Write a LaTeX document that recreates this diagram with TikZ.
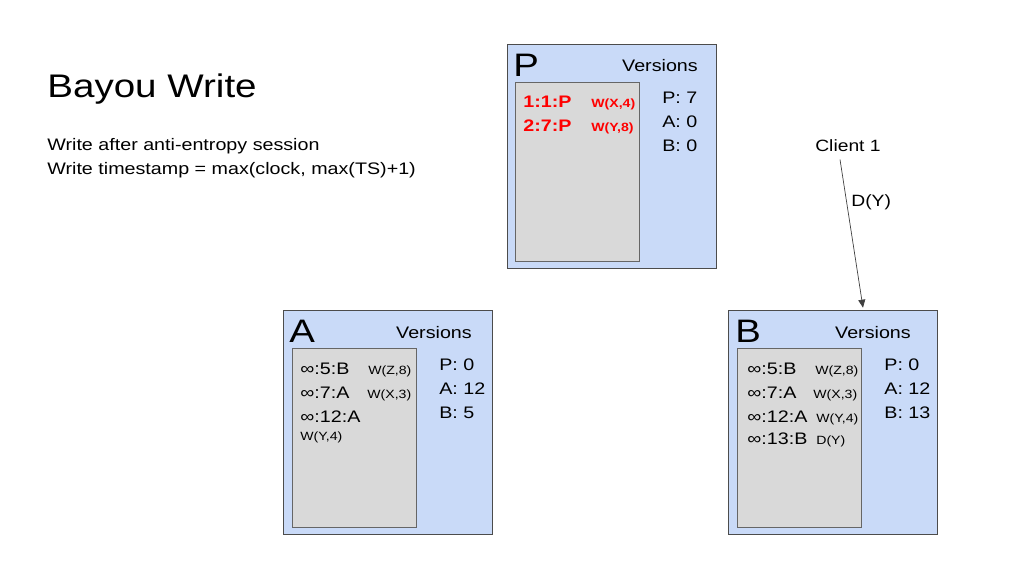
\documentclass[tikz,border=0pt]{standalone}
\usepackage{fontspec}
\setmainfont[FakeStretch=1.18]{Liberation Sans}
\usepackage{tikz}
\usetikzlibrary{arrows.meta,positioning}

\definecolor{replicablue}{HTML}{C9DAF8}
\definecolor{loggray}{HTML}{D9D9D9}

\begin{document}
\begin{tikzpicture}[x=0.02cm,y=-0.02cm,
  replica/.style={draw=black!70,fill=replicablue,minimum width=4.18cm,minimum height=4.48cm,inner sep=0},
  logbox/.style={draw=black!60,fill=loggray,minimum width=2.48cm,minimum height=3.58cm,inner sep=0},
  txt/.style={anchor=base west,inner sep=0,font=\fontsize{9.5}{11}\selectfont},
  op/.style={anchor=base west,inner sep=0,font=\fontsize{6.8}{8}\selectfont},
  letter/.style={anchor=base west,inner sep=0,font=\fontsize{18.5}{20}\selectfont},
  versions/.style={anchor=base,inner sep=0,font=\fontsize{9.5}{11}\selectfont}]
\useasboundingbox (0,0) rectangle (1024,576);
% Title and notes
\node[anchor=base west,inner sep=0,font=\fontsize{18.6}{20}\selectfont] (title) at (47,97) {Bayou Write};
\node[txt] (note1) at (47,150) {Write after anti-entropy session};
\node[txt] (note2) at (47,174) {Write timestamp = max(clock, max(TS)+1)};
% Replica P
\node[replica] (boxP) at (611.5,156) {};
\node[logbox] (logP) at (577.5,171.5) {};
\node[letter] (nameP) at (513,76) {P};
\node[versions] (verP) at (660,71) {Versions};
\foreach \t/\y in {{P: 7}/103,{A: 0}/127,{B: 0}/151}
  \node[txt] at (662,\y) {\t};
\node[txt,red,font=\fontsize{9.5}{11}\selectfont\bfseries] (p1) at (523,107) {1:1:P};
\node[op,red,font=\fontsize{6.8}{8}\selectfont\bfseries] (p1op) at (591,107) {W(X,4)};
\node[txt,red,font=\fontsize{9.5}{11}\selectfont\bfseries] (p2) at (523,131) {2:7:P};
\node[op,red,font=\fontsize{6.8}{8}\selectfont\bfseries] (p2op) at (591,131) {W(Y,8)};
% Replica A
\node[replica] (boxA) at (387.5,422) {};
\node[logbox] (logA) at (354.5,437.5) {};
\node[letter] (nameA) at (289,342) {A};
\node[versions] (verA) at (434,338) {Versions};
\foreach \t/\y in {{P: 0}/370,{A: 12}/394,{B: 5}/418}
  \node[txt] at (439,\y) {\t};
\node[txt] (a1) at (300,374) {∞:5:B};
\node[op] (a1op) at (368,374) {W(Z,8)};
\node[txt] (a2) at (300,398) {∞:7:A};
\node[op] (a2op) at (367,398) {W(X,3)};
\node[txt] (a3) at (300,422) {∞:12:A};
\node[op] (a3op) at (300,440) {W(Y,4)};
% Replica B
\node[replica] (boxB) at (833,422) {};
\node[logbox] (logB) at (799,437.5) {};
\node[letter] (nameB) at (735,342) {B};
\node[versions] (verB) at (873,338) {Versions};
\foreach \t/\y in {{P: 0}/370,{A: 12}/394,{B: 13}/418}
  \node[txt] at (884,\y) {\t};
\node[txt] (b1) at (747,374) {∞:5:B};
\node[op] (b1op) at (815,374) {W(Z,8)};
\node[txt] (b2) at (747,398) {∞:7:A};
\node[op] (b2op) at (813,398) {W(X,3)};
\node[txt] (b3) at (747,422) {∞:12:A};
\node[op] (b3op) at (816,422) {W(Y,4)};
\node[txt] (b4) at (747,444) {∞:13:B};
\node[op] (b4op) at (816,444) {D(Y)};
% Client 1 sends D(Y) to B
\node[anchor=base,inner sep=0,font=\fontsize{9.3}{11}\selectfont] (client) at (848,151) {Client 1};
\node[txt,font=\fontsize{9.3}{11}\selectfont] (dop) at (851,206) {D(Y)};
\draw[black!75,-{Triangle[length=1.6mm,width=1.4mm]}] ([xshift=-0.16cm,yshift=-0.16cm]client.south) -- ([xshift=0.6cm,yshift=0.04cm]boxB.north);
\end{tikzpicture}
\end{document}
